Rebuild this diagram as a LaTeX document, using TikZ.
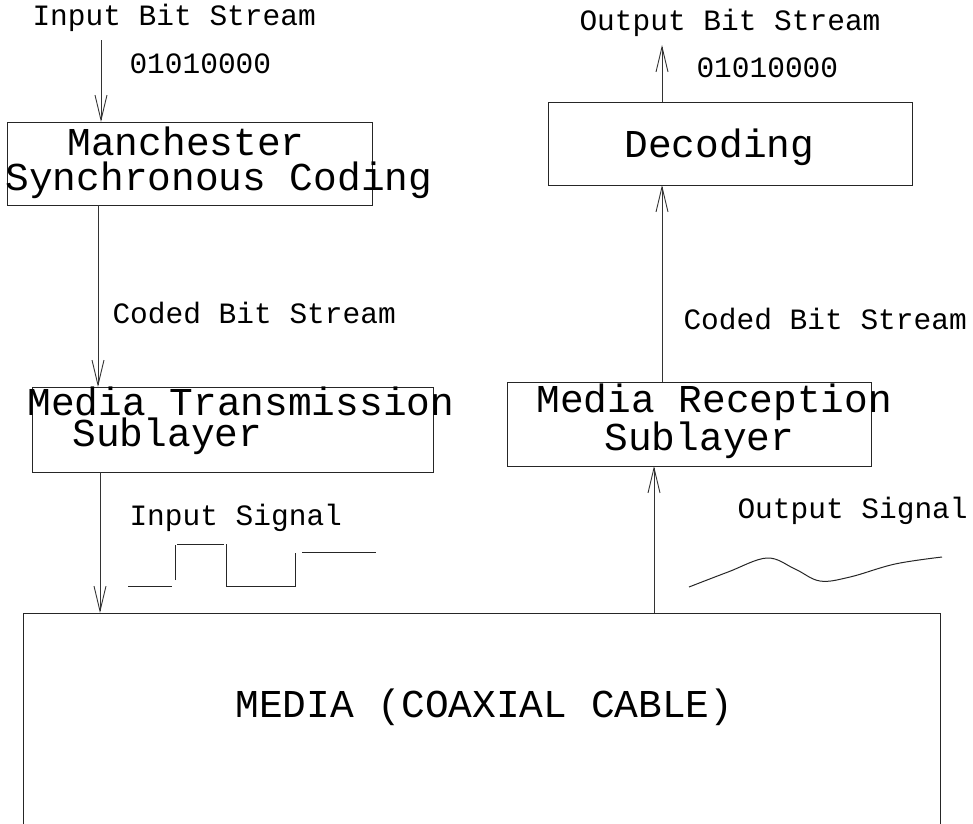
\documentclass[tikz,border=0pt]{standalone}
\usepackage{fontspec}
\setmainfont{Liberation Mono}
\usetikzlibrary{arrows.meta}
\begin{document}
\begin{tikzpicture}[x=1pt,y=-1pt,
  line width=1pt,
  box/.style={draw=black!85, rectangle, inner sep=0pt, outer sep=0pt},
  big/.style={anchor=base west, inner sep=0pt, align=left, font=\fontsize{39.5}{40}\selectfont},
  small/.style={anchor=base west, inner sep=0pt, font=\fontsize{29.5}{30}\selectfont},
  flow/.style={draw=black!80, line width=0.9pt, -{Straight Barb[length=25pt,width=12pt,line width=0.9pt]}},
  wave/.style={draw=black!85, line width=1pt}]
\useasboundingbox (0,0) rectangle (973,823);
\clip (0,0) rectangle (973,823);

% boxes
\node[box, minimum width=365pt, minimum height=83pt] (manch) at (189.5,163.5) {};
\node[box, minimum width=401pt, minimum height=85pt] (mts) at (232.5,429.5) {};
\node[box, minimum width=364pt, minimum height=84pt] (mrs) at (689,424) {};
\node[box, minimum width=364pt, minimum height=83pt] (dec) at (730,143.5) {};
\node[box, minimum width=917pt, minimum height=240pt] (media) at (481.5,733) {};

% box texts (two-line titles: anchored at the baseline of their last line)
\node[big, font=\fontsize{39.5}{35}\selectfont] (t1) at (5,190)
  {\hspace*{62pt}Manchester\\Synchronous Coding};
\node[big, font=\fontsize{39.5}{29}\selectfont] (t3) at (27,446)
  {Media Transmission\\\hspace*{45pt}Sublayer};
\node[big, font=\fontsize{39.5}{35}\selectfont] (t5) at (536,450)
  {Media Reception\\\hspace*{68pt}Sublayer};
\node[big] (t7) at (624,157) {Decoding};
\node[big] (t8) at (235,717) {MEDIA (COAXIAL CABLE)};

% labels
\node[small] (l1) at (32,25) {Input Bit Stream};
\node[small] (l2) at (129,73) {01010000};
\node[small] (l3) at (579,30) {Output Bit Stream};
\node[small] (l4) at (696,77) {01010000};
\node[small] (l5) at (112,323) {Coded Bit Stream};
\node[small] (l6) at (683,329) {Coded Bit Stream};
\node[small] (l7) at (129,525) {Input Signal};
\node[small] (l8) at (737,518) {Output Signal};

% connector end points
\coordinate (inTop) at (101,40);
\coordinate (outTop) at (662,45);
\coordinate (a1) at (manch.north -| inTop);
\coordinate (a2s) at (manch.south -| 98,0);
\coordinate (a2e) at (mts.north -| 98,0);
\coordinate (a3s) at (mts.south -| 100,0);
\coordinate (a3e) at (media.north -| 100,0);
\coordinate (a4s) at (media.north -| 654,0);
\coordinate (a4e) at (mrs.south -| 654,0);
\coordinate (a5s) at (mrs.north -| 662,0);
\coordinate (a5e) at (dec.south -| 662,0);
\coordinate (a6s) at (dec.north -| outTop);

% connectors
\draw[flow] (inTop) -- (a1);
\draw[flow] (a2s) -- (a2e);
\draw[flow] (a3s) -- (a3e);
\draw[flow] (a4s) -- (a4e);
\draw[flow] (a5s) -- (a5e);
\draw[flow] (a6s) -- (outTop);

% square wave of the input signal
\draw[wave] (128,586) -- (172,586);
\draw[wave] (175,580) -- (175,545);
\draw[wave] (177,544) -- (224,544);
\draw[wave] (226,544) -- (226,586) -- (295,586) -- (295,553);
\draw[wave] (302,552) -- (376,552);

% smooth output signal
\draw[wave] plot[smooth, tension=0.6] coordinates
  {(689,587) (728,572) (767,558) (795,569) (820,581) (850,577) (895,564) (942,557)};
\end{tikzpicture}
\end{document}
